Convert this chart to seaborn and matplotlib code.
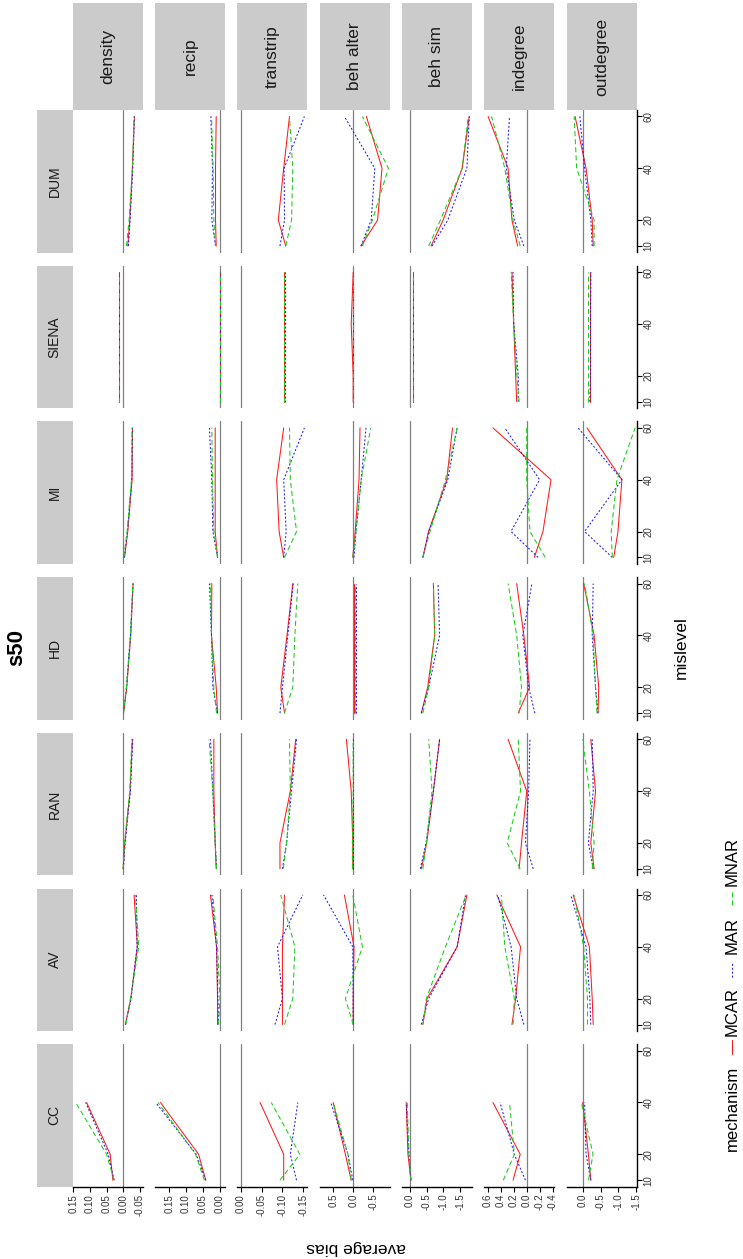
import numpy as np
import pandas as pd
import matplotlib
matplotlib.use("Agg")
import matplotlib.pyplot as plt
import seaborn as sns
from matplotlib.lines import Line2D
from matplotlib.patches import Rectangle

# ---------------- data ----------------
methods = ["DUM", "SIENA", "MI", "HD", "RAN", "AV", "CC"]   # top -> bottom
params = ["density", "recip", "transtrip", "beh alter", "beh sim", "indegree", "outdegree"]
mechanisms = ["MCAR", "MAR", "MNAR"]
mislevels = [10, 20, 40, 60]

# each entry: [MCAR, MAR, MNAR] average bias at mislevel 10, 20, 40, 60
density = {
    "CC":    [[0.031, 0.039, 0.110], [0.027, 0.045, 0.113], [0.027, 0.050, 0.143]],
    "AV":    [[-0.007, -0.023, -0.043, -0.033], [-0.007, -0.024, -0.042, -0.040], [-0.008, -0.022, -0.047, -0.037]],
    "RAN":   [[0.000, -0.005, -0.021, -0.028], [-0.001, -0.006, -0.022, -0.029], [0.000, -0.004, -0.020, -0.026]],
    "HD":    [[-0.001, -0.011, -0.023, -0.030], [-0.001, -0.010, -0.022, -0.030], [-0.001, -0.010, -0.022, -0.029]],
    "MI":    [[-0.004, -0.014, -0.027, -0.028], [-0.004, -0.013, -0.026, -0.028], [-0.002, -0.012, -0.025, -0.027]],
    "SIENA": [[0.012, 0.012, 0.012, 0.012], [0.013, 0.013, 0.013, 0.013], [0.012, 0.012, 0.012, 0.012]],
    "DUM":   [[-0.014, -0.020, -0.028, -0.034], [-0.016, -0.021, -0.029, -0.034], [-0.010, -0.018, -0.028, -0.033]],
}
recip = {
    "CC":    [[0.042, 0.063, 0.176], [0.042, 0.070, 0.190], [0.046, 0.072, 0.183]],
    "AV":    [[0.007, 0.007, 0.010, 0.028], [0.004, 0.006, 0.010, 0.024], [0.004, 0.000, 0.007, 0.021]],
    "RAN":   [[0.011, 0.014, 0.018, 0.018], [0.010, 0.014, 0.021, 0.028], [0.010, 0.014, 0.021, 0.032]],
    "HD":    [[0.007, 0.011, 0.025, 0.024], [0.007, 0.021, 0.025, 0.031], [0.010, 0.018, 0.025, 0.028]],
    "MI":    [[0.007, 0.014, 0.014, 0.014], [0.007, 0.021, 0.024, 0.031], [0.007, 0.018, 0.022, 0.024]],
    "SIENA": [[0.001, 0.001, 0.001, 0.001], [0.000, 0.000, 0.000, 0.000], [0.001, 0.001, 0.001, 0.001]],
    "DUM":   [[0.011, 0.013, 0.013, 0.011], [0.013, 0.024, 0.022, 0.027], [0.013, 0.018, 0.020, 0.025]],
}
transtrip = {
    "CC":    [[-0.103, -0.103, -0.046], [-0.134, -0.119, -0.137], [-0.094, -0.142, -0.073]],
    "AV":    [[-0.100, -0.100, -0.100, -0.105], [-0.082, -0.100, -0.088, -0.149], [-0.105, -0.125, -0.130, -0.096]],
    "RAN":   [[-0.094, -0.094, -0.119, -0.132], [-0.100, -0.110, -0.122, -0.134], [-0.102, -0.110, -0.119, -0.117]],
    "HD":    [[-0.105, -0.096, -0.111, -0.125], [-0.094, -0.100, -0.113, -0.126], [-0.105, -0.125, -0.130, -0.137]],
    "MI":    [[-0.103, -0.092, -0.086, -0.103], [-0.103, -0.109, -0.103, -0.153], [-0.105, -0.134, -0.119, -0.117]],
    "SIENA": [[-0.104, -0.104, -0.104, -0.104], [-0.105, -0.105, -0.105, -0.105], [-0.104, -0.104, -0.104, -0.104]],
    "DUM":   [[-0.108, -0.090, -0.103, -0.117], [-0.094, -0.105, -0.104, -0.153], [-0.108, -0.122, -0.125, -0.117]],
}
beh_alter = {
    "CC":    [[0.05, 0.195, 0.50], [0.01, 0.13, 0.56], [0.05, 0.13, 0.50]],
    "AV":    [[0.00, 0.00, -0.02, 0.22], [0.00, 0.00, 0.01, 0.74], [0.00, 0.195, -0.23, 0.01]],
    "RAN":   [[0.01, 0.01, 0.05, 0.17], [0.00, 0.00, 0.00, 0.00], [0.02, 0.02, 0.00, 0.00]],
    "HD":    [[-0.02, -0.02, -0.02, -0.02], [-0.07, -0.07, -0.07, -0.07], [-0.04, -0.04, -0.04, -0.04]],
    "MI":    [[0.01, -0.05, -0.146, -0.17], [-0.02, -0.07, -0.20, -0.32], [0.01, -0.07, -0.20, -0.44]],
    "SIENA": [[0.00, 0.00, 0.05, 0.00], [0.00, 0.00, 0.00, 0.00], [0.00, 0.00, 0.00, 0.00]],
    "DUM":   [[-0.195, -0.61, -0.72, -0.33], [-0.195, -0.45, -0.54, 0.22], [-0.23, -0.48, -0.88, -0.23]],
}
beh_sim = {
    "CC":    [[-0.03, 0.06, 0.11], [-0.03, 0.03, 0.11], [-0.03, 0.03, 0.08]],
    "AV":    [[-0.386, -0.51, -1.41, -1.70], [-0.34, -0.56, -1.41, -1.66], [-0.386, -0.49, -1.06, -1.68]],
    "RAN":   [[-0.34, -0.50, -0.70, -0.886], [-0.31, -0.48, -0.70, -0.886], [-0.386, -0.49, -0.66, -0.56]],
    "HD":    [[-0.34, -0.53, -0.74, -0.70], [-0.34, -0.56, -0.886, -0.84], [-0.386, -0.56, -0.74, -0.70]],
    "MI":    [[-0.386, -0.557, -1.10, -1.27], [-0.386, -0.56, -1.13, -1.41], [-0.386, -0.60, -1.06, -1.41]],
    "SIENA": [[-0.10, -0.10, -0.10, -0.10], [-0.10, -0.10, -0.10, -0.10], [-0.10, -0.10, -0.10, -0.10]],
    "DUM":   [[-0.63, -0.99, -1.56, -1.77], [-0.66, -1.13, -1.70, -1.77], [-0.56, -0.91, -1.56, -1.74]],
}
indegree = {
    "CC":    [[0.21, 0.10, 0.52], [0.02, 0.19, 0.41], [0.36, 0.19, 0.264]],
    "AV":    [[0.227, 0.17, 0.095, 0.46], [0.044, 0.154, 0.24, 0.447], [0.21, 0.19, 0.337, 0.39]],
    "RAN":   [[0.117, 0.08, 0.00, 0.286], [-0.10, 0.02, -0.03, -0.05], [0.10, 0.30, 0.095, 0.13]],
    "HD":    [[0.13, -0.044, 0.044, 0.154], [-0.125, -0.03, 0.06, -0.08], [0.117, 0.08, 0.154, 0.286]],
    "MI":    [[-0.117, -0.25, -0.374, 0.52], [-0.176, 0.242, -0.198, 0.337], [-0.286, -0.05, 0.00, 0.00]],
    "SIENA": [[0.154, 0.17, 0.20, 0.227], [0.13, 0.13, 0.20, 0.21], [0.117, 0.15, 0.20, 0.24]],
    "DUM":   [[0.139, 0.227, 0.286, 0.594], [0.044, 0.19, 0.315, 0.264], [0.10, 0.21, 0.337, 0.54]],
}
outdegree = {
    "CC":    [[-0.227, -0.16, 0.00], [-0.227, -0.094, -0.053], [-0.16, -0.29, 0.04]],
    "AV":    [[-0.294, -0.267, -0.187, 0.267], [-0.227, -0.20, -0.094, 0.334], [-0.134, -0.134, -0.027, 0.24]],
    "RAN":   [[-0.32, -0.227, -0.36, -0.227], [-0.294, -0.16, -0.294, -0.267], [-0.267, -0.32, -0.187, 0.00]],
    "HD":    [[-0.43, -0.45, -0.32, -0.027], [-0.43, -0.36, -0.267, -0.294], [-0.40, -0.36, -0.294, -0.053]],
    "MI":    [[-0.87, -0.99, -1.10, -0.12], [-0.83, -0.053, -1.10, 0.13], [-0.83, -0.80, -0.96, -1.47]],
    "SIENA": [[-0.20, -0.20, -0.20, -0.20], [-0.20, -0.22, -0.22, -0.227], [-0.16, -0.16, -0.16, -0.16]],
    "DUM":   [[-0.294, -0.267, -0.094, 0.214], [-0.267, -0.227, -0.053, 0.08], [-0.32, -0.32, 0.17, 0.24]],
}
param_tables = {"density": density, "recip": recip, "transtrip": transtrip,
                "beh alter": beh_alter, "beh sim": beh_sim,
                "indegree": indegree, "outdegree": outdegree}

# axis ranges (left value, right value) and ticks of each parameter column
bias_limits = {"density": (0.152, -0.059), "recip": (0.192, -0.015), "transtrip": (0.009, -0.160),
               "beh alter": (0.84, -0.91), "beh sim": (0.24, -1.85),
               "indegree": (0.654, -0.423), "outdegree": (0.455, -1.51)}
bias_ticks = {"density": [0.15, 0.10, 0.05, 0.00, -0.05], "recip": [0.15, 0.10, 0.05, 0.00],
              "transtrip": [0.00, -0.05, -0.10, -0.15], "beh alter": [0.5, 0.0, -0.5],
              "beh sim": [0.0, -0.5, -1.0, -1.5], "indegree": [0.6, 0.4, 0.2, 0.0, -0.2, -0.4],
              "outdegree": [0.0, -0.5, -1.0, -1.5]}
bias_fmt = {"density": "{:.2f}", "recip": "{:.2f}", "transtrip": "{:.2f}", "beh alter": "{:.1f}",
            "beh sim": "{:.1f}", "indegree": "{:.1f}", "outdegree": "{:.1f}"}

rows = []
for p, table in param_tables.items():
    for m, series in table.items():
        for mech, vals in zip(mechanisms, series):
            for lv, v in zip(mislevels, vals):
                rows.append({"param": p, "method": m, "mechanism": mech, "mislevel": lv, "bias": v})
df = pd.DataFrame(rows)

# ---------------- style ----------------
sns.set_theme(style="white")
plt.rcParams["font.family"] = ["Liberation Sans", "DejaVu Sans"]
plt.rcParams["lines.scale_dashes"] = False
palette = {"MCAR": "#FF1A1A", "MAR": "#1A1AFF", "MNAR": "#1ACC1A"}
dashes = {"MCAR": "", "MAR": (1.4, 1.4), "MNAR": (3.6, 2.2)}
TXT = "#1a1a1a"

W, H = 743, 1259
fig = plt.figure(figsize=(W / 100, H / 100), dpi=100)
fig.patch.set_facecolor("white")


def fx(x):
    return x / W


def fy(y):
    return 1 - y / H


col_left0, col_step, col_w = 72.7, 82.3, 70.0
row_top0, row_step, row_h = 110.0, 155.7, 142.5
strip_fc = "#CBCBCB"

for c, p in enumerate(params):
    L = col_left0 + c * col_step
    # parameter strip (top)
    fig.add_artist(Rectangle((fx(L), fy(110)), col_w / W, (110 - 3.3) / H,
                             transform=fig.transFigure, facecolor=strip_fc, edgecolor="none"))
    fig.text(fx(L + col_w / 2), fy(56.5), p, rotation=90, ha="center", va="center",
             fontsize=12.5, color=TXT)

for r, m in enumerate(methods):
    T = row_top0 + r * row_step
    fig.add_artist(Rectangle((fx(36.7), fy(T + row_h)), 36.0 / W, row_h / H,
                             transform=fig.transFigure, facecolor=strip_fc, edgecolor="none"))
    fig.text(fx(54.7), fy(T + row_h / 2), m, rotation=90, ha="center", va="center",
             fontsize=10, color=TXT)

    for c, p in enumerate(params):
        L = col_left0 + c * col_step
        ax = fig.add_axes([fx(L), fy(T + row_h), col_w / W, row_h / H])
        sub = df[(df["param"] == p) & (df["method"] == m)]
        ax.axvline(0, color="#808080", lw=0.9, zorder=1)
        sns.lineplot(data=sub, x="bias", y="mislevel", hue="mechanism", style="mechanism",
                     hue_order=mechanisms, style_order=mechanisms, palette=palette,
                     dashes=dashes, orient="y", estimator=None, lw=0.75,
                     legend=False, ax=ax, zorder=2)
        ax.set_xlim(*bias_limits[p])
        ax.set_ylim(7.5, 62.5)
        ax.set_xlabel("")
        ax.set_ylabel("")
        ax.set_facecolor("white")
        for s in ax.spines.values():
            s.set_visible(False)
        ax.grid(False)
        if r == len(methods) - 1:
            ax.spines["bottom"].set_visible(True)
            ax.spines["bottom"].set_color("black")
            ax.spines["bottom"].set_linewidth(1.0)
            ax.set_xticks(bias_ticks[p])
            ax.set_xticklabels([bias_fmt[p].format(t) for t in bias_ticks[p]])
            ax.tick_params(axis="x", bottom=True, direction="out", length=3.6, width=0.8,
                           color="black", labelsize=7, labelcolor="#333333",
                           labelrotation=90, pad=1.5)
        else:
            ax.set_xticks([])
        if c == len(params) - 1:
            ax.spines["right"].set_visible(True)
            ax.spines["right"].set_color("black")
            ax.spines["right"].set_linewidth(1.0)
            ax.yaxis.set_ticks_position("right")
            ax.set_yticks(mislevels)
            ax.set_yticklabels([str(v) for v in mislevels])
            ax.tick_params(axis="y", right=True, left=False, direction="out", length=3.6,
                           width=0.8, color="black", labelsize=7, labelcolor="#333333",
                           labelrotation=90, pad=1.5)
            for lbl in ax.get_yticklabels():
                lbl.set_verticalalignment("center")
        else:
            ax.set_yticks([])

# titles
fig.text(fx(16.5), fy(648), "s50", rotation=90, ha="center", va="center",
         fontsize=16, fontweight="bold", color="black")
fig.text(fx(681), fy(648), "mislevel", rotation=90, ha="center", va="center",
         fontsize=12.5, color="black")
fig.text(fx(356), fy(1248), "average bias", rotation=180, ha="center", va="center",
         fontsize=12.5, color="black")

# legend (rotated)
LX = 732
fig.text(fx(LX), fy(1108), "mechanism", rotation=90, ha="center", va="center",
         fontsize=12, color="black")
legend_items = [("MCAR", 1047, 1012), ("MAR", 970, 936), ("MNAR", 898, 862)]
for mech, key_y, txt_y in legend_items:
    fig.add_artist(Line2D([fx(LX), fx(LX)], [fy(key_y + 7), fy(key_y - 7)],
                          transform=fig.transFigure, color=palette[mech], lw=0.75,
                          linestyle=(0, dashes[mech]) if dashes[mech] else "-"))
    fig.text(fx(LX), fy(txt_y), mech, rotation=90, ha="center", va="center",
             fontsize=12, color="black")

fig.savefig("out.png", dpi=100, facecolor="white")
